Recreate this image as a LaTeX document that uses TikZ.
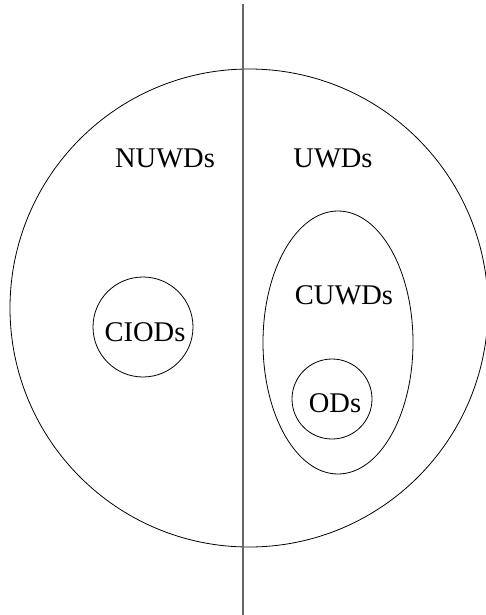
\documentclass[tikz,border=0pt]{standalone}
\usepackage{fontspec}
\setmainfont{Liberation Serif}
\usetikzlibrary{shapes.geometric}

\begin{document}
\begin{tikzpicture}[x=1pt,y=-1pt,
    set/.style={draw,line width=0.8pt,inner sep=0pt},
    lbl/.style={font=\fontsize{28.5}{34}\selectfont}]
    \useasboundingbox (0,0) rectangle (486,615);
    \clip (0,0) rectangle (486,615);
    \node[set,circle,minimum size=478pt] (all) at (249,308) {};
    \coordinate (top) at (243,4);
    \coordinate (bot) at (243,620);
    \draw[gray!80!black,line width=1.5pt] (top) -- (bot);
    \node[lbl] (nuwd) at (165,158) {NUWDs};
    \node[lbl] (uwd) at (333,158) {UWDs};
    \node[set,circle,minimum size=100pt,lbl] (ciod) at (143,327) {};
    \node[lbl] (ciodtxt) at (145,332) {CIODs};
    \node[set,ellipse,minimum width=150pt,minimum height=263pt] (cuwd) at (338,342.5) {};
    \node[lbl] (cuwdtxt) at (344,295) {CUWDs};
    \node[set,circle,minimum size=80pt] (od) at (332,399) {};
    \node[lbl] (odtxt) at (335,403) {ODs};
\end{tikzpicture}
\end{document}
